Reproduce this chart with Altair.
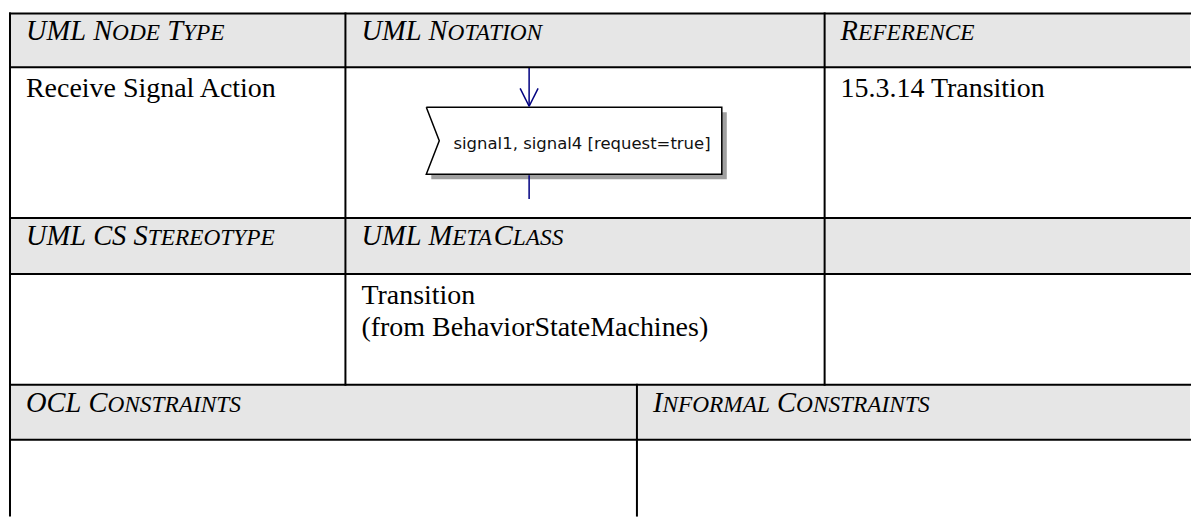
import altair as alt
import pandas as pd

# ---------------- content ----------------
header_texts = ["UML Node Type", "UML Notation", "Reference",
                "UML CS Stereotype", "UML MetaClass", "",
                "OCL Constraints", "Informal Constraints"]
body_texts = ["Receive Signal Action", "", "15.3.14 Transition",
              "", "Transition\n(from BehaviorStateMachines)", "",
              "", ""]
signal_label = "signal1, signal4 [request=true]"

# ---------------- layout (page pixels) ----------------
ROWS = [13, 67, 218, 274, 385, 440, 516]
COLS_WIDE = [10, 346, 826, 1192]
COLS_TWO = [10, 638, 1192]
RIGHT, BOTTOM = 1192, 516
PAD_X = 16
HEAD_BASE = 27
BODY_BASE = 30
FS_HEAD = 28.5
FS_BODY = 28
SMALL = 0.82

# Times New Roman Italic advance widths (per 1000 em)
TNRI = {"A": 611, "C": 667, "D": 722, "E": 611, "F": 611, "I": 333, "L": 556,
        "M": 833, "N": 667, "O": 722, "P": 611, "R": 611, "S": 500, "T": 556,
        "U": 722, "Y": 556, "G": 722, "H": 722, "B": 611, " ": 250}


def small_caps(text, x0, y, fs):
    segs = []
    x = x0
    run, run_small, run_x = "", None, x0

    def flush():
        if run:
            segs.append({"x": run_x, "y": y, "t": run,
                         "fs": fs * SMALL if run_small else fs})

    for ch in text:
        if ch == " ":
            flush()
            run, run_small = "", None
            x += TNRI[" "] / 1000 * fs
            run_x = x
            continue
        is_small = ch.islower()
        up = ch.upper()
        if run and is_small != run_small:
            flush()
            run = ""
            run_x = x
        if not run:
            run_x = x
        run += up
        run_small = is_small
        x += TNRI.get(up, 600) / 1000 * fs * (SMALL if is_small else 1)
    flush()
    return segs


cell_cols = [COLS_WIDE, COLS_WIDE, COLS_WIDE, COLS_WIDE, COLS_WIDE, COLS_WIDE, COLS_TWO, COLS_TWO]
cell_col_idx = [0, 1, 2, 0, 1, 2, 0, 1]
cell_band = [0, 0, 0, 1, 1, 1, 2, 2]

head_segs, body_rows = [], []
for i, (h, b) in enumerate(zip(header_texts, body_texts)):
    cx = cell_cols[i][cell_col_idx[i]] + PAD_X
    hy = ROWS[cell_band[i] * 2]
    by = ROWS[cell_band[i] * 2 + 1]
    if h:
        head_segs += small_caps(h, cx, hy + HEAD_BASE, FS_HEAD)
    if b:
        body_rows.append({"x": cx, "y": by + BODY_BASE, "t": b})

head_df = pd.DataFrame(head_segs)
body_df = pd.DataFrame(body_rows)

# gray header bands
bands = pd.DataFrame({"x": [10] * 3, "x2": [RIGHT] * 3,
                      "y": [ROWS[0], ROWS[2], ROWS[4]],
                      "y2": [ROWS[1], ROWS[3], ROWS[5]]})

# grid lines
lines = []
for yy in ROWS[:-1]:
    lines.append({"x": 10, "x2": RIGHT, "y": yy, "y2": yy})
lines.append({"x": 10, "x2": 10, "y": ROWS[0], "y2": BOTTOM})
for xx in COLS_WIDE[1:-1]:
    lines.append({"x": xx, "x2": xx, "y": ROWS[0], "y2": ROWS[4]})
lines.append({"x": COLS_TWO[1], "x2": COLS_TWO[1], "y": ROWS[4], "y2": BOTTOM})
lines_df = pd.DataFrame(lines)

# signal shape
SX0, SX1, SY0, SY1, NOTCH = 427, 723, 107, 174, 440
SH = 5
shadow = pd.DataFrame({"x": [SX0 + SH], "x2": [SX1 + SH], "y": [SY0 + SH], "y2": [SY1 + SH]})
box = pd.DataFrame({"x": [SX0], "x2": [SX1], "y": [SY0], "y2": [SY1]})
notch = pd.DataFrame({"x": [SX0, NOTCH], "y": [SY0, (SY0 + SY1) / 2], "y2": [SY1, (SY0 + SY1) / 2]})
outline = pd.DataFrame({"i": list(range(6)),
                        "x": [SX0, SX1, SX1, SX0, NOTCH, SX0],
                        "y": [SY0, SY0, SY1, SY1, (SY0 + SY1) / 2, SY0]})
AX = 530
conn = pd.DataFrame({"x": [AX, AX, AX, AX], "x2": [AX, AX, AX - 9, AX + 9],
                     "y": [ROWS[1], SY1 + 1, SY0 - 1, SY0 - 1],
                     "y2": [SY0 - 1, 199, 88, 88]})
sig = pd.DataFrame({"x": [583], "y": [149], "t": [signal_label]})

X = alt.Scale(domain=[8, 1192])
Y = alt.Scale(domain=[8, 516], reverse=True)


def xq(f="x"):
    return alt.X(f + ":Q", scale=X, axis=None)


def yq(f="y"):
    return alt.Y(f + ":Q", scale=Y, axis=None)


band_layer = alt.Chart(bands).mark_rect(color="#e6e6e6").encode(
    x=xq(), x2="x2:Q", y=yq(), y2="y2:Q")
shadow_layer = alt.Chart(shadow).mark_rect(color="#a0a0a0").encode(
    x=xq(), x2="x2:Q", y=yq(), y2="y2:Q")
box_layer = alt.Chart(box).mark_rect(color="white").encode(
    x=xq(), x2="x2:Q", y=yq(), y2="y2:Q")
notch_layer = alt.Chart(notch).mark_area(color="white", orient="vertical", opacity=1).encode(
    x=xq(), y=yq(), y2="y2:Q")
outline_layer = alt.Chart(outline).mark_line(color="black", strokeWidth=1.5).encode(
    x=xq(), y=yq(), order="i:Q")
conn_layer = alt.Chart(conn).mark_rule(color="#000080", strokeWidth=1.5).encode(
    x=xq(), x2="x2:Q", y=yq(), y2="y2:Q")
grid_layer = alt.Chart(lines_df).mark_rule(color="black", strokeWidth=2, strokeCap="square").encode(
    x=xq(), x2="x2:Q", y=yq(), y2="y2:Q")
head_layer = alt.Chart(head_df).mark_text(
    align="left", baseline="alphabetic", font="Liberation Serif", fontStyle="italic",
    color="black").encode(x=xq(), y=yq(), text="t:N", size=alt.Size("fs:Q", scale=None))
body_layer = alt.Chart(body_df).mark_text(
    align="left", baseline="alphabetic", font="Liberation Serif", fontSize=FS_BODY,
    lineBreak="\n", lineHeight=32, color="black").encode(x=xq(), y=yq(), text="t:N")
sig_layer = alt.Chart(sig).mark_text(
    align="center", baseline="alphabetic", font="DejaVu Sans", fontSize=16.5,
    color="#111111").encode(x=xq(), y=yq(), text="t:N")

chart = alt.layer(
    band_layer, shadow_layer, box_layer, notch_layer, outline_layer, conn_layer,
    grid_layer, head_layer, body_layer, sig_layer
).properties(width=1184, height=508, padding=0, background="white").configure_view(stroke=None)

chart.save("out.html", embed_options={"renderer": "svg", "actions": False})
